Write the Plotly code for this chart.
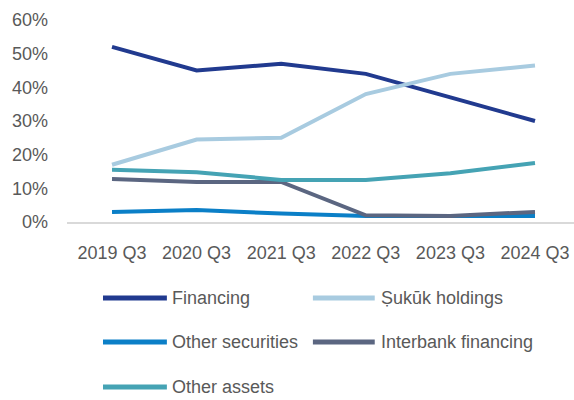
import plotly.graph_objects as go

# Asset composition shares (fraction of total assets)
quarters = ["2019 Q3", "2020 Q3", "2021 Q3", "2022 Q3", "2023 Q3", "2024 Q3"]
financing = [0.52, 0.45, 0.47, 0.44, 0.37, 0.30]
sukuk_holdings = [0.17, 0.245, 0.25, 0.38, 0.44, 0.465]
other_securities = [0.03, 0.036, 0.025, 0.018, 0.018, 0.018]
interbank_financing = [0.128, 0.119, 0.119, 0.02, 0.018, 0.03]
other_assets = [0.155, 0.148, 0.125, 0.125, 0.145, 0.175]

series = [
    ("Financing", financing, "#213a8f"),
    ("Ṣukūk holdings", sukuk_holdings, "#a8cbe0"),
    ("Other securities", other_securities, "#0b7fc7"),
    ("Interbank financing", interbank_financing, "#5b6681"),
    ("Other assets", other_assets, "#45a3b4"),
]

FONT = "Liberation Sans, Arial, sans-serif"
TEXT = "#595959"

fig = go.Figure()
for name, vals, color in series:
    fig.add_trace(go.Scatter(
        x=quarters, y=vals, name=name, mode="lines",
        line=dict(color=color, width=4), showlegend=False,
    ))

# Two-column legend drawn with shapes and labels
legend_rows = [-0.376, -0.594, -0.817]
legend_cols = [(0.071, 0.197, 0.203), (0.485, 0.607, 0.615)]
for i, (name, _, color) in enumerate(series):
    row, col = divmod(i, 2)
    x0, x1, xt = legend_cols[col]
    y = legend_rows[row]
    fig.add_shape(type="line", xref="paper", yref="paper",
                  x0=x0, x1=x1, y0=y, y1=y,
                  line=dict(color=color, width=5))
    fig.add_annotation(xref="paper", yref="paper", x=xt, y=y,
                       text=name, showarrow=False, xanchor="left",
                       yanchor="middle",
                       font=dict(family=FONT, size=18, color=TEXT))

fig.update_layout(
    width=574, height=400,
    margin=dict(l=67, r=0, t=20, b=178),
    paper_bgcolor="white", plot_bgcolor="white",
    font=dict(family=FONT, size=18, color=TEXT),
    showlegend=False,
)
fig.update_xaxes(
    type="category", range=[-0.532, 5.461],
    showgrid=False, zeroline=False,
    showline=True, linecolor="#d9d9d9", linewidth=2,
    ticks="", ticklabelstandoff=13,
    tickfont=dict(family=FONT, size=18, color=TEXT),
)
fig.update_yaxes(
    range=[0, 0.6], tickvals=[0, 0.1, 0.2, 0.3, 0.4, 0.5, 0.6],
    tickformat=".0%", showgrid=False, zeroline=False, showline=False,
    ticks="", ticklabelstandoff=18,
    tickfont=dict(family=FONT, size=18, color=TEXT),
)

fig.write_html("out.html")
